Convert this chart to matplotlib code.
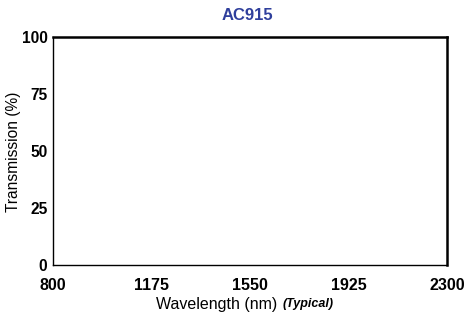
import matplotlib
matplotlib.use("Agg")
import matplotlib.pyplot as plt

#-------------------------------------------------------------------------------
title_txt = 'AC915'
x_ticks   = [800, 1175, 1550, 1925, 2300]
y_ticks   = [0, 25, 50, 75, 100]
#-------------------------------------------------------------------------------
plt.rcParams['font.family'] = ['Liberation Sans', 'DejaVu Sans']

fig = plt.figure(figsize=(4.66, 3.18), dpi=100)
ax = fig.add_axes([53/466, 1-265/318, (447-53)/466, (265-37)/318])

ax.set_xlim(x_ticks[0], x_ticks[-1])
ax.set_ylim(y_ticks[0], y_ticks[-1])
ax.set_xticks(x_ticks)
ax.set_yticks(y_ticks)
ax.tick_params(axis='x', length=0, labelsize=11.5, pad=9)
ax.tick_params(axis='y', length=0, labelsize=11.2, pad=4)
for lab in ax.get_xticklabels() + ax.get_yticklabels():
    lab.set_fontweight('bold')

for s in ['left', 'bottom']:
    ax.spines[s].set_linewidth(1.0)
for s in ['top', 'right']:
    ax.spines[s].set_linewidth(1.8)

fig.text(14/466, 1-152/318, 'Transmission (%)', fontsize=11.2, rotation=90,
         ha='center', va='center')
fig.text(277/466, 1-304/318, 'Wavelength (nm)', fontsize=11.5, ha='right', va='center')
fig.text(283/466, 1-304/318, '(Typical)', fontsize=9, style='italic',
         fontweight='bold', ha='left', va='center')

fig.text(247/466, 1-16/318, title_txt, fontsize=12, fontweight='bold',
         color='#2f3f9c', ha='center', va='center')

fig.savefig('out.png', dpi=100)
